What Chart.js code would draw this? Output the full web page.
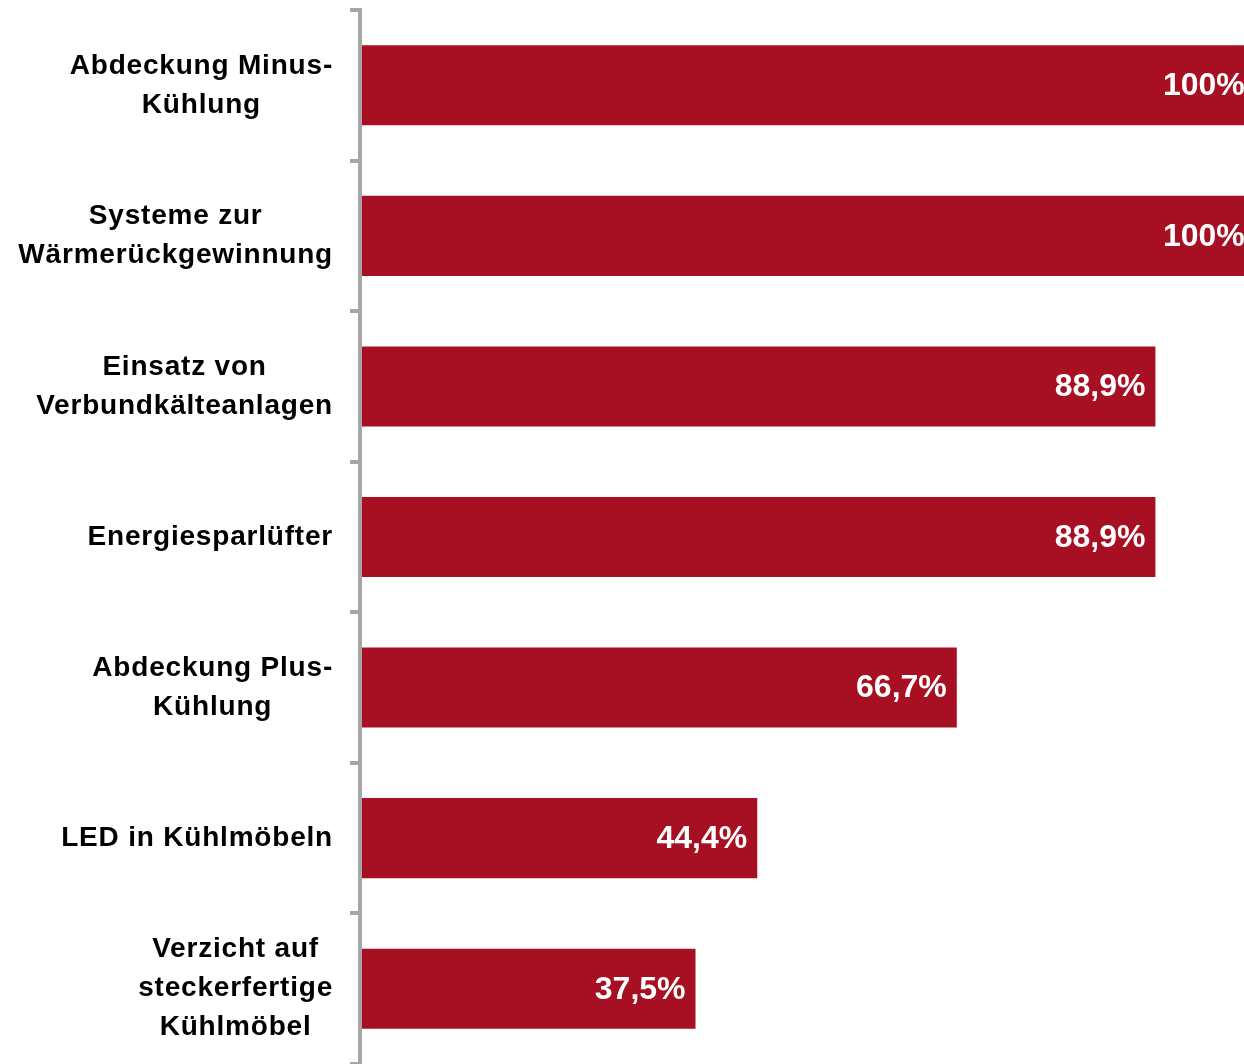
<!DOCTYPE html>
<html>
<head>
<meta charset="utf-8">
<script src="https://cdn.jsdelivr.net/npm/chart.js@4/dist/chart.umd.min.js"></script>
<style>
  html, body { margin: 0; padding: 0; background: #ffffff; }
  #wrap { width: 1244px; height: 1064px; position: relative; }
</style>
</head>
<body>
<div id="wrap"><canvas id="chart"></canvas></div>
<script>
// categories (multi-line labels) and values in percent
const categories = [
    ['Abdeckung Minus-', 'Kühlung'],
    ['Systeme zur', 'Wärmerückgewinnung'],
    ['Einsatz von', 'Verbundkälteanlagen'],
    ['Energiesparlüfter'],
    ['Abdeckung Plus-', 'Kühlung'],
    ['LED in Kühlmöbeln'],
    ['Verzicht auf', 'steckerfertige', 'Kühlmöbel']
];
const shares = [100, 100, 88.9, 88.9, 66.7, 44.4, 37.5];

const BAR_RED = '#A71022';
const AXIS_GREY = '#A6A6A6';
const FONT = '"Liberation Sans", Arial, sans-serif';

function fmtPct(v) {
    // German decimal comma, whole numbers without decimals
    return (Number.isInteger(v) ? String(v) : v.toFixed(1).replace('.', ',')) + '%';
}

// Category labels: block right-aligned next to the axis, lines centred inside the block
const categoryLabels = {
    id: 'categoryLabels',
    afterDraw(chart) {
        const ctx = chart.ctx;
        const yScale = chart.scales.y;
        const rightEdge = yScale.right - 27;
        const lineH = 39;
        ctx.save();
        ctx.font = 'bold 28px ' + FONT;
        ctx.letterSpacing = '0.8px';
        ctx.fillStyle = '#000000';
        ctx.textAlign = 'center';
        ctx.textBaseline = 'middle';
        categories.forEach((lines, i) => {
            const cy = yScale.getPixelForTick(i);
            const blockW = Math.max(...lines.map(l => ctx.measureText(l).width));
            const cx = rightEdge - blockW / 2;
            const top = cy - (lines.length - 1) * lineH / 2;
            lines.forEach((l, j) => ctx.fillText(l, cx, top + j * lineH));
        });
        ctx.restore();
    }
};

// White value labels inside the end of each bar
const valueLabels = {
    id: 'valueLabels',
    afterDatasetsDraw(chart) {
        const ctx = chart.ctx;
        const meta = chart.getDatasetMeta(0);
        ctx.save();
        ctx.font = 'bold 32px ' + FONT;
        ctx.fillStyle = '#ffffff';
        ctx.textAlign = 'right';
        ctx.textBaseline = 'middle';
        meta.data.forEach((bar, i) => {
            ctx.fillText(fmtPct(shares[i]), bar.x - 10, bar.y + 1);
        });
        ctx.restore();
    }
};

new Chart(document.getElementById('chart'), {
    type: 'bar',
    data: {
        labels: categories,
        datasets: [{
            data: shares,
            backgroundColor: BAR_RED,
            borderWidth: 0,
            barPercentage: 0.532,
            categoryPercentage: 1
        }]
    },
    options: {
        indexAxis: 'y',
        responsive: true,
        maintainAspectRatio: false,
        animation: false,
        layout: { padding: { top: 10, right: 0, bottom: 0, left: 0 } },
        plugins: {
            legend: { display: false },
            tooltip: { enabled: false }
        },
        scales: {
            x: {
                display: false,
                min: 0,
                // the 100% bars run past the right edge of the picture
                max: 98.8
            },
            y: {
                afterFit(scale) { scale.width = 360; },
                border: { display: true, color: AXIS_GREY, width: 4, z: 1 },
                grid: {
                    z: 1,
                    offset: true,
                    drawOnChartArea: false,
                    drawTicks: true,
                    tickLength: 10,
                    tickWidth: 4,
                    tickColor: AXIS_GREY,
                    color: AXIS_GREY,
                    lineWidth: 4
                },
                ticks: { display: false }
            }
        }
    },
    plugins: [categoryLabels, valueLabels]
});
</script>
</body>
</html>
